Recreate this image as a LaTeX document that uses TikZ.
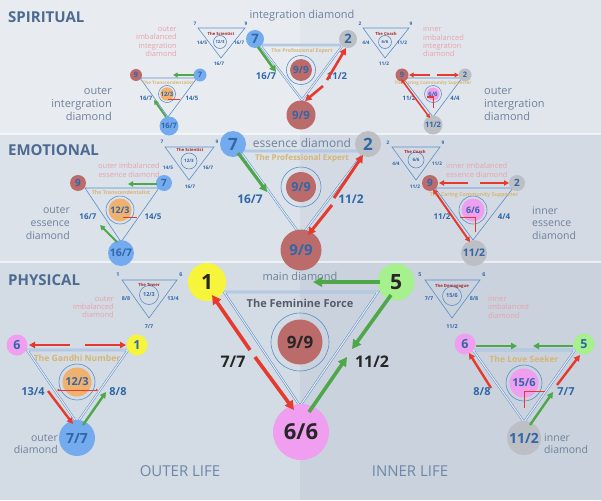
\documentclass[tikz,border=0pt]{standalone}
\usepackage{fontspec}
\setmainfont{Open Sans}
\usetikzlibrary{
		calc,
		positioning,
		arrows.meta
	}
\newcommand{\fsz}[1]{\fontsize{#1}{#1}\selectfont}
\definecolor{bandSL}{HTML}{E8ECF1}
\definecolor{bandSR}{HTML}{E1E6ED}
\definecolor{bandEL}{HTML}{DBE2EA}
\definecolor{bandER}{HTML}{D3DAE4}
\definecolor{bandPL}{HTML}{D3DBE4}
\definecolor{bandPR}{HTML}{C9D2DD}
\definecolor{headblue}{HTML}{4D6A91}
\definecolor{lifeblue}{HTML}{6E87A8}
\definecolor{lineblue}{HTML}{5B8DC9}
\definecolor{gapfill}{HTML}{E4EAF1}
\definecolor{numblue}{HTML}{3067A8}
\definecolor{capgray}{HTML}{6E829C}
\definecolor{imbpink}{HTML}{E9A3AC}
\definecolor{titletan}{HTML}{D6B677}
\definecolor{titlegray}{HTML}{565C66}
\definecolor{darktext}{HTML}{262626}
\definecolor{darkred}{HTML}{A3262A}
\definecolor{arrred}{HTML}{E63A2E}
\definecolor{arrgreen}{HTML}{4EA84A}
\definecolor{cblue}{HTML}{74AAEE}
\definecolor{cgray}{HTML}{BCBFC4}
\definecolor{cred}{HTML}{BC6B6B}
\definecolor{cpink}{HTML}{EF9EF0}
\definecolor{cyellow}{HTML}{F7F43C}
\definecolor{cgreen}{HTML}{A6F08E}
\definecolor{corange}{HTML}{F0B06E}
\tikzset{
		>=Triangle
	}

\begin{document}
\begin{tikzpicture}[x=1pt, y=-1pt,
		numdot/.style={circle, inner sep=0pt, text=numblue, font=\bfseries},
		ring/.style={circle, draw=lineblue, line width=0.6pt, inner sep=0pt},
		edgeline/.style={draw=lineblue, line width=0.6pt},
		doubleedge/.style={draw=lineblue, double=gapfill, double distance=1.1pt, line width=0.5pt},
		sidelabel/.style={text=numblue, font=\bfseries},
		diamondtitle/.style={text=titletan, inner sep=0pt},
		tinytitle/.style={text=darkred, inner sep=0pt, font=\bfseries\fsz{4.2}},
		tinylabel/.style={text=numblue, inner sep=0pt, font=\bfseries\fsz{4.8}},
		imbalanced/.style={text=imbpink, inner sep=0pt, font=\fontsize{7.5}{8.4}\selectfont},
		diamondname/.style={text=capgray, inner sep=0pt},
		rowname/.style={text=headblue, anchor=west, inner sep=0pt, font=\bfseries\fsz{15}},
		redarrow/.style={draw=arrred, line width=2pt, -{Triangle[length=0pt 2.5, width=0pt 2.6]}},
		greenarrow/.style={draw=arrgreen, line width=2pt, -{Triangle[length=0pt 2.5, width=0pt 2.6]}},
		redboth/.style={redarrow, {Triangle[length=0pt 2.5, width=0pt 2.6]}-{Triangle[length=0pt 2.5, width=0pt 2.6]}},
		redmark/.style={draw=arrred, line width=1pt}]
	\useasboundingbox (0,0) rectangle (601,500);
	% bands
	\fill[bandSL] (0,0) rectangle (300,134);
	\fill[bandSR] (300,0) rectangle (601,134);
	\fill[bandEL] (0,134) rectangle (300,262);
	\fill[bandER] (300,134) rectangle (601,262);
	\fill[bandPL] (0,262) rectangle (300,500);
	\fill[bandPR] (300,262) rectangle (601,500);
	\draw[white, opacity=0.6, line width=2pt] (0,134) -- (601,134);
	\draw[white, opacity=0.6, line width=2pt] (0,262) -- (601,262);
	\node[rowname] (spiritual) at (8,17) {SPIRITUAL};
	\node[rowname] (emotional) at (8,150) {EMOTIONAL};
	\node[rowname] (physical) at (8,280) {PHYSICAL};
	\node[text=lifeblue, font=\fsz{15}] (outerlife) at (180,471) {OUTER LIFE};
	\node[text=lifeblue, font=\fsz{15}] (innerlife) at (410,471) {INNER LIFE};

	% main diamond
	\coordinate (mA) at (224,292); \coordinate (mB) at (378,292); \coordinate (mC) at (300,406);
	\draw[doubleedge] (mA) -- (mB) -- (mC) -- cycle;
	\node[ring, minimum size=58pt] (mring) at (300,342) {};
	\node[numdot, fill=cred, minimum size=45pt, text=darktext, font=\bfseries\fsz{17}] (m99) at (mring) {9/9};
	\node[numdot, fill=cyellow, minimum size=38pt, text=darktext, font=\bfseries\fsz{21}] (m1) at (207,282) {1};
	\node[numdot, fill=cgreen, minimum size=37pt, text=darktext, font=\bfseries\fsz{21}] (m5) at (396,282) {5};
	\node[numdot, fill=cpink, minimum size=56pt, text=darktext, font=\bfseries\fsz{22}] (m66) at (301,432) {6/6};
	\node[text=titlegray, font=\bfseries\fsz{11}] (mtitle) at (300,303) {The Feminine Force};
	\node[diamondname, font=\fsz{11}] (mname) at (300,276) {main diamond};
	\node[text=darktext, font=\bfseries\fsz{16}] (m77) at (233,362) {7/7};
	\node[text=darktext, font=\bfseries\fsz{16}] (m112) at (372,362) {11/2};
	\coordinate (mr1) at (250,350); \coordinate (mr2) at (212,295);
	\coordinate (mr3) at (255,357); \coordinate (mr4) at (294,410);
	\coordinate (mg1) at (391,295); \coordinate (mg2) at (352,349);
	\coordinate (mg3) at (309,412); \coordinate (mg4) at (347,357);
	\coordinate (mg5) at (380,282); \coordinate (mg6) at (313,282);
	\draw[redarrow, line width=3.6pt] (mr1) -- (mr2);
	\draw[redarrow, line width=3.6pt] (mr3) -- (mr4);
	\draw[greenarrow, line width=3.6pt] (mg1) -- (mg2);
	\draw[greenarrow, line width=3.6pt] (mg3) -- (mg4);
	\draw[greenarrow, line width=3.6pt] (mg5) -- (mg6);

	% essence diamond
	\coordinate (eA) at (240,151); \coordinate (eB) at (365,151); \coordinate (eC) at (301,236);
	\draw[doubleedge] (eA) -- (eB) -- (eC) -- cycle;
	\node[ring, minimum size=40pt] (ering) at (301,187) {};
	\node[numdot, fill=cred, minimum size=30pt, font=\bfseries\fsz{12.5}] (e99) at (ering) {9/9};
	\node[numdot, fill=cblue, minimum size=26pt, font=\bfseries\fsz{17}] (e7) at (233,144) {7};
	\node[numdot, fill=cgray, minimum size=26pt, font=\bfseries\fsz{17}] (e2) at (368,144) {2};
	\node[numdot, fill=cred, minimum size=41pt, font=\bfseries\fsz{15}] (e99b) at (301,250) {9/9};
	\node[diamondname, font=\fsz{12}] (ename) at (302,143) {essence diamond};
	\node[diamondtitle, font=\bfseries\fsz{8}] (etitle) at (302,158) {The Professional Expert};
	\node[sidelabel, font=\bfseries\fsz{12}] (e167) at (250,199) {16/7};
	\node[sidelabel, font=\bfseries\fsz{12}] (e112) at (351,199) {11/2};
	\coordinate (eg1) at (238,153); \coordinate (eg2) at (267,192);
	\coordinate (er1) at (334,198); \coordinate (er2) at (363,155);
	\coordinate (er3) at (332,205); \coordinate (er4) at (308,235);
	\draw[greenarrow, line width=3pt] (eg1) -- (eg2);
	\draw[redarrow, line width=3pt] (er1) -- (er2);
	\draw[redarrow, line width=3pt] (er3) -- (er4);

	% integration diamond
	\coordinate (iA) at (260,45); \coordinate (iB) at (343,45); \coordinate (iC) at (302,100);
	\draw[doubleedge] (iA) -- (iB) -- (iC) -- cycle;
	\node[ring, minimum size=29pt] (iring) at (301,70) {};
	\node[numdot, fill=cred, minimum size=22pt, font=\bfseries\fsz{10}] (i99) at (iring) {9/9};
	\node[numdot, fill=cblue, minimum size=18pt, font=\bfseries\fsz{13}] (i7) at (255,39) {7};
	\node[numdot, fill=cgray, minimum size=18pt, font=\bfseries\fsz{13}] (i2) at (348,39) {2};
	\node[numdot, fill=cred, minimum size=29pt, font=\bfseries\fsz{11.5}] (i99b) at (301,115) {9/9};
	\node[diamondname, font=\fsz{11}] (iname) at (302,16) {integration diamond};
	\node[diamondtitle, font=\bfseries\fsz{5.2}] (ititle) at (302,51) {The Professional Expert};
	\node[sidelabel, font=\bfseries\fsz{9.5}] (i167) at (266,76) {16/7};
	\node[sidelabel, font=\bfseries\fsz{9.5}] (i112) at (337,76) {11/2};
	\coordinate (ig1) at (258,47); \coordinate (ig2) at (276,72);
	\coordinate (ir1) at (327,80); \coordinate (ir2) at (346,48);
	\coordinate (ir3) at (323,86); \coordinate (ir4) at (305,101);
	\draw[greenarrow, line width=2.6pt] (ig1) -- (ig2);
	\draw[redarrow, line width=2.6pt] (ir1) -- (ir2);
	\draw[redarrow, line width=2.6pt] (ir3) -- (ir4);

	% outer integration diamond
	\coordinate (oiA) at (140,78); \coordinate (oiB) at (197,78); \coordinate (oiC) at (168,117);
	\draw[edgeline] (oiA) -- (oiB) -- (oiC) -- cycle;
	\node[ring, minimum size=17pt] (oiring) at (167,94) {};
	\node[numdot, fill=corange, minimum size=13pt, font=\bfseries\fsz{6}] (oi123) at (oiring) {12/3};
	\node[numdot, fill=cred, minimum size=12pt, font=\bfseries\fsz{7.5}] (oi9) at (136,75) {9};
	\node[numdot, fill=cblue, minimum size=13pt, font=\bfseries\fsz{7.5}] (oi7) at (200,75) {7};
	\node[numdot, fill=cblue, minimum size=19pt, font=\bfseries\fsz{7.5}] (oi167) at (169,126) {16/7};
	\node[diamondtitle, font=\bfseries\fsz{4.6}] (oititle) at (168,83) {The Transcendentalist};
	\node[sidelabel, font=\bfseries\fsz{6}] (oil) at (146,98) {16/7};
	\node[sidelabel, font=\bfseries\fsz{6}] (oir) at (192,98) {14/5};
	\coordinate (oig1) at (194,75); \coordinate (oig2) at (173,75);
	\coordinate (oig3) at (166,117); \coordinate (oig4) at (154,100);
	\coordinate (oim1) at (168,99); \coordinate (oim2) at (180,99);
	\draw[greenarrow, line width=1.8pt] (oig1) -- (oig2);
	\draw[greenarrow, line width=1.8pt] (oig3) -- (oig4);
	\draw[redmark] (oim1) -- (oim2);

	% inner integration diamond
	\coordinate (iiA) at (403,78); \coordinate (iiB) at (462,78); \coordinate (iiC) at (433,117);
	\draw[edgeline] (iiA) -- (iiB) -- (iiC) -- cycle;
	\node[ring, minimum size=17pt] (iiring) at (433,94) {};
	\node[numdot, fill=cpink, minimum size=13pt, font=\bfseries\fsz{6}] (ii66) at (iiring) {6/6};
	\node[numdot, fill=cred, minimum size=13pt, font=\bfseries\fsz{7.5}] (ii9) at (402,75) {9};
	\node[numdot, fill=cgray, minimum size=13pt, font=\bfseries\fsz{7.5}] (ii2) at (465,75) {2};
	\node[numdot, fill=cgray, minimum size=19pt, font=\bfseries\fsz{7.5}] (ii112) at (433,125) {11/2};
	\node[diamondtitle, font=\bfseries\fsz{4.6}] (iititle) at (433,83) {The Caring Community Supporter};
	\node[sidelabel, font=\bfseries\fsz{6}] (iil) at (409,98) {11/2};
	\node[sidelabel, font=\bfseries\fsz{6}] (iir) at (455,98) {4/4};
	\coordinate (iir1) at (430,75); \coordinate (iir2) at (409,75);
	\coordinate (iir3) at (437,75); \coordinate (iir4) at (459,75);
	\coordinate (iir5) at (401,79); \coordinate (iir6) at (430,118);
	\coordinate (iim1) at (427,97); \coordinate (iim2) at (433,97); \coordinate (iim3) at (433,108);
	\draw[redarrow, line width=1.8pt] (iir1) -- (iir2);
	\draw[redarrow, line width=1.8pt] (iir3) -- (iir4);
	\draw[redboth, line width=1.6pt] (iir5) -- (iir6);
	\draw[redmark] (iim1) -- (iim2) -- (iim3);

	% outer essence diamond
	\coordinate (oeA) at (85,188); \coordinate (oeB) at (159,188); \coordinate (oeC) at (121,242);
	\draw[edgeline] (oeA) -- (oeB) -- (oeC) -- cycle;
	\node[ring, minimum size=28pt] (oering) at (120,210) {};
	\node[numdot, fill=corange, minimum size=23pt, font=\bfseries\fsz{9}] (oe123) at (oering) {12/3};
	\node[numdot, fill=cred, minimum size=16pt, font=\bfseries\fsz{10}] (oe9) at (78,183) {9};
	\node[numdot, fill=cblue, minimum size=16pt, font=\bfseries\fsz{10}] (oe7) at (164,183) {7};
	\node[numdot, fill=cblue, minimum size=26pt, font=\bfseries\fsz{10.5}] (oe167) at (121,253) {16/7};
	\node[diamondtitle, font=\bfseries\fsz{5.3}] (oetitle) at (121,193) {The Transcendentalist};
	\node[sidelabel, font=\bfseries\fsz{8}] (oel) at (88,217) {16/7};
	\node[sidelabel, font=\bfseries\fsz{8}] (oer) at (153,217) {14/5};
	\coordinate (oeg1) at (157,184); \coordinate (oeg2) at (128,184);
	\coordinate (oeg3) at (117,242); \coordinate (oeg4) at (100,225);
	\coordinate (oem1) at (123,217); \coordinate (oem2) at (137,217);
	\draw[greenarrow, line width=2pt] (oeg1) -- (oeg2);
	\draw[greenarrow, line width=2pt] (oeg3) -- (oeg4);
	\draw[redmark] (oem1) -- (oem2);

	% inner essence diamond
	\coordinate (ieA) at (435,188); \coordinate (ieB) at (513,188); \coordinate (ieC) at (473,240);
	\draw[edgeline] (ieA) -- (ieB) -- (ieC) -- cycle;
	\node[ring, minimum size=28pt] (iering) at (473,210) {};
	\node[numdot, fill=cpink, minimum size=23pt, font=\bfseries\fsz{9}] (ie66) at (iering) {6/6};
	\node[numdot, fill=cred, minimum size=16pt, font=\bfseries\fsz{10}] (ie9) at (430,183) {9};
	\node[numdot, fill=cgray, minimum size=16pt, font=\bfseries\fsz{10}] (ie2) at (517,183) {2};
	\node[numdot, fill=cgray, minimum size=26pt, font=\bfseries\fsz{10.5}] (ie112) at (474,253) {11/2};
	\node[diamondtitle, font=\bfseries\fsz{5.3}] (ietitle) at (474,195) {The Caring Community Supporter};
	\node[sidelabel, font=\bfseries\fsz{8}] (iel) at (442,217) {11/2};
	\node[sidelabel, font=\bfseries\fsz{8}] (ier) at (504,217) {4/4};
	\coordinate (ier1) at (468,183); \coordinate (ier2) at (439,183);
	\coordinate (ier3) at (480,183); \coordinate (ier4) at (509,183);
	\coordinate (ier5) at (433,189); \coordinate (ier6) at (470,242);
	\coordinate (iem1) at (460,217); \coordinate (iem2) at (475,217); \coordinate (iem3) at (475,232);
	\draw[redarrow, line width=2pt] (ier1) -- (ier2);
	\draw[redarrow, line width=2pt] (ier3) -- (ier4);
	\draw[redboth, line width=2pt] (ier5) -- (ier6);
	\draw[redmark] (iem1) -- (iem2) -- (iem3);

	% outer diamond
	\coordinate (opA) at (27,350); \coordinate (opB) at (128,350); \coordinate (opC) at (77,423);
	\draw[doubleedge] (opA) -- (opB) -- (opC) -- cycle;
	\node[ring, minimum size=36pt] (opring) at (77,382) {};
	\node[numdot, fill=corange, minimum size=29pt, font=\bfseries\fsz{11}] (op123) at (opring) {12/3};
	\node[numdot, fill=cpink, minimum size=21pt, font=\bfseries\fsz{12.5}] (op6) at (17,345) {6};
	\node[numdot, fill=cyellow, minimum size=21pt, font=\bfseries\fsz{12.5}] (op1) at (137,345) {1};
	\node[numdot, fill=cblue, minimum size=36pt, font=\bfseries\fsz{14}] (op77) at (77,438) {7/7};
	\node[diamondtitle, font=\bfseries\fsz{8.6}] (optitle) at (77,358) {The Gandhi Number};
	\node[sidelabel, font=\bfseries\fsz{11}] (opl) at (33,392) {13/4};
	\node[sidelabel, font=\bfseries\fsz{11}] (opr) at (118,392) {8/8};
	\coordinate (opr1) at (70,345); \coordinate (opr2) at (29,345);
	\coordinate (opr3) at (85,345); \coordinate (opr4) at (126,345);
	\coordinate (opr5) at (48,391); \coordinate (opr6) at (73,424);
	\coordinate (opg1) at (83,425); \coordinate (opg2) at (106,392);
	\coordinate (opm1) at (57,390); \coordinate (opm2) at (98,390);
	\draw[redarrow, line width=2.4pt] (opr1) -- (opr2);
	\draw[redarrow, line width=2.4pt] (opr3) -- (opr4);
	\draw[redarrow, line width=2.4pt] (opr5) -- (opr6);
	\draw[greenarrow, line width=2.4pt] (opg1) -- (opg2);
	\draw[redmark, line width=0.8pt, {Triangle[length=2pt,width=2.5pt]}-{Triangle[length=2pt,width=2.5pt]}] (opm1) -- (opm2);

	% inner diamond
	\coordinate (ipA) at (473,350); \coordinate (ipB) at (575,350); \coordinate (ipC) at (524,422);
	\draw[doubleedge] (ipA) -- (ipB) -- (ipC) -- cycle;
	\node[ring, minimum size=36pt] (ipring) at (524,383) {};
	\node[numdot, fill=cpink, minimum size=29pt, font=\bfseries\fsz{11}] (ip156) at (ipring) {15/6};
	\node[numdot, fill=cpink, minimum size=21pt, font=\bfseries\fsz{12.5}] (ip6) at (465,344) {6};
	\node[numdot, fill=cgreen, minimum size=21pt, font=\bfseries\fsz{12.5}] (ip5) at (584,344) {5};
	\node[numdot, fill=cgray, minimum size=34pt, font=\bfseries\fsz{14}] (ip112) at (524,438) {11/2};
	\node[diamondtitle, font=\bfseries\fsz{8.6}] (iptitle) at (524,359) {The Love Seeker};
	\node[sidelabel, font=\bfseries\fsz{11}] (ipl) at (482,392) {8/8};
	\node[sidelabel, font=\bfseries\fsz{11}] (ipr) at (566,392) {7/7};
	\coordinate (ipg1) at (476,346); \coordinate (ipg2) at (517,346);
	\coordinate (ipg3) at (573,346); \coordinate (ipg4) at (533,346);
	\coordinate (ipr1) at (491,388); \coordinate (ipr2) at (469,353);
	\coordinate (ipr3) at (557,385); \coordinate (ipr4) at (580,355);
	\coordinate (ipg5) at (530,425); \coordinate (ipg6) at (553,392);
	\coordinate (ipm1) at (545,391); \coordinate (ipm2) at (524,391); \coordinate (ipm3) at (524,408);
	\draw[greenarrow, line width=2.4pt] (ipg1) -- (ipg2);
	\draw[greenarrow, line width=2.4pt] (ipg3) -- (ipg4);
	\draw[redarrow, line width=2.4pt] (ipr1) -- (ipr2);
	\draw[redarrow, line width=2.4pt] (ipr3) -- (ipr4);
	\draw[greenarrow, line width=2.4pt] (ipg5) -- (ipg6);
	\draw[redmark] (ipm1) -- (ipm2) -- (ipm3);

	% small triangles
	\coordinate (saA) at (198,28); \coordinate (saB) at (245,28); \coordinate (saC) at (221,58);
	\draw[edgeline] (saA) -- (saB) -- (saC) -- cycle;
	\node[ring, minimum size=13pt, font=\bfseries\fsz{4.2}, text=numblue] (saring) at (220,42) {12/3};
	\node[tinytitle] (satitle) at (221,34) {The Scientist};
	\node[tinylabel] at (195,24) {7};
	\node[tinylabel] at (246,24) {9};
	\node[tinylabel] at (202,43) {14/5};
	\node[tinylabel] at (239,43) {16/7};
	\node[tinylabel] at (219,64) {16/7};

	\coordinate (sbA) at (363,28); \coordinate (sbB) at (409,28); \coordinate (sbC) at (385,58);
	\draw[edgeline] (sbA) -- (sbB) -- (sbC) -- cycle;
	\node[ring, minimum size=13pt, font=\bfseries\fsz{4.2}, text=numblue] (sbring) at (385,42) {6/6};
	\node[tinytitle] (sbtitle) at (386,34) {The Coach};
	\node[tinylabel] at (360,24) {2};
	\node[tinylabel] at (411,24) {9};
	\node[tinylabel] at (366,43) {4/4};
	\node[tinylabel] at (402,43) {11/2};
	\node[tinylabel] at (384,64) {11/2};

	\coordinate (scA) at (165,147); \coordinate (scB) at (214,147); \coordinate (scC) at (189,180);
	\draw[edgeline] (scA) -- (scB) -- (scC) -- cycle;
	\node[ring, minimum size=16pt, font=\bfseries\fsz{4.5}, text=numblue] (scring) at (189,161) {12/3};
	\node[tinytitle] (sctitle) at (190,150) {The Scientist};
	\node[tinylabel] at (162,142) {7};
	\node[tinylabel] at (217,142) {9};
	\node[tinylabel] at (168,168) {14/5};
	\node[tinylabel] at (208,168) {16/7};
	\node[tinylabel] at (190,187) {16/7};

	\coordinate (sdA) at (392,147); \coordinate (sdB) at (440,147); \coordinate (sdC) at (416,180);
	\draw[edgeline] (sdA) -- (sdB) -- (sdC) -- cycle;
	\node[ring, minimum size=16pt, font=\bfseries\fsz{4.5}, text=numblue] (sdring) at (416,160) {6/6};
	\node[tinytitle] (sdtitle) at (415,152) {The Coach};
	\node[tinylabel] at (388,143) {2};
	\node[tinylabel] at (443,143) {9};
	\node[tinylabel] at (396,164) {4/4};
	\node[tinylabel] at (437,164) {11/2};
	\node[tinylabel] at (415,187) {11/2};

	\coordinate (seA) at (122,280); \coordinate (seB) at (177,280); \coordinate (seC) at (149,318);
	\draw[edgeline] (seA) -- (seB) -- (seC) -- cycle;
	\node[ring, minimum size=19pt, font=\bfseries\fsz{5.5}, text=numblue] (sering) at (149,295) {12/3};
	\node[tinytitle] (setitle) at (149,285) {The Tower};
	\node[tinylabel, font=\bfseries\fsz{5.4}] at (118,275) {1};
	\node[tinylabel, font=\bfseries\fsz{5.4}] at (181,275) {6};
	\node[tinylabel, font=\bfseries\fsz{5.4}] at (126,299) {8/8};
	\node[tinylabel, font=\bfseries\fsz{5.4}] at (173,299) {13/4};
	\node[tinylabel, font=\bfseries\fsz{5.4}] at (149,327) {7/7};

	\coordinate (sfA) at (425,280); \coordinate (sfB) at (480,280); \coordinate (sfC) at (452,318);
	\draw[edgeline] (sfA) -- (sfB) -- (sfC) -- cycle;
	\node[ring, minimum size=19pt, font=\bfseries\fsz{5.5}, text=numblue] (sfring) at (452,296) {15/6};
	\node[tinytitle] (sftitle) at (452,286) {The Demagogue};
	\node[tinylabel, font=\bfseries\fsz{5.4}] at (420,275) {5};
	\node[tinylabel, font=\bfseries\fsz{5.4}] at (484,275) {6};
	\node[tinylabel, font=\bfseries\fsz{5.4}] at (429,299) {7/7};
	\node[tinylabel, font=\bfseries\fsz{5.4}] at (474,299) {8/8};
	\node[tinylabel, font=\bfseries\fsz{5.4}] at (452,327) {11/2};

	% side captions
	\node[imbalanced, anchor=east, align=right] (imb1) at (177,41.5) {outer\\imbalanced\\integration\\diamond};
	\node[imbalanced, anchor=west, align=left] (imb2) at (423,41.5) {inner\\imbalanced\\integration\\diamond};
	\node[imbalanced, anchor=east, align=right] (imb3) at (160,170) {outer imbalanced\\essence diamond};
	\node[imbalanced, anchor=west, align=left] (imb4) at (446,170) {inner imbalanced\\essence diamond};
	\node[imbalanced, anchor=east, align=right] (imb5) at (114,307) {outer\\imbalanced\\diamond};
	\node[imbalanced, anchor=west, align=left] (imb6) at (488,307) {inner\\imbalanced\\diamond};
	\node[diamondname, anchor=east, align=right, font=\fontsize{11}{13}\selectfont] (cap1) at (112,104) {outer\\intergration\\diamond};
	\node[diamondname, anchor=west, align=left, font=\fontsize{11}{13}\selectfont] (cap2) at (484,104) {outer\\intergration\\diamond};
	\node[diamondname, anchor=east, align=right, font=\fontsize{10.5}{12.7}\selectfont] (cap3) at (70,223) {outer\\essence\\diamond};
	\node[diamondname, anchor=west, align=left, font=\fontsize{10.5}{12.7}\selectfont] (cap4) at (532,223) {inner\\essence\\diamond};
	\node[diamondname, anchor=east, align=right, font=\fontsize{10.5}{12}\selectfont] (cap5) at (58,444) {outer\\diamond};
	\node[diamondname, anchor=west, align=left, font=\fontsize{10.5}{12}\selectfont] (cap6) at (544,444) {inner\\diamond};
\end{tikzpicture}
\end{document}
